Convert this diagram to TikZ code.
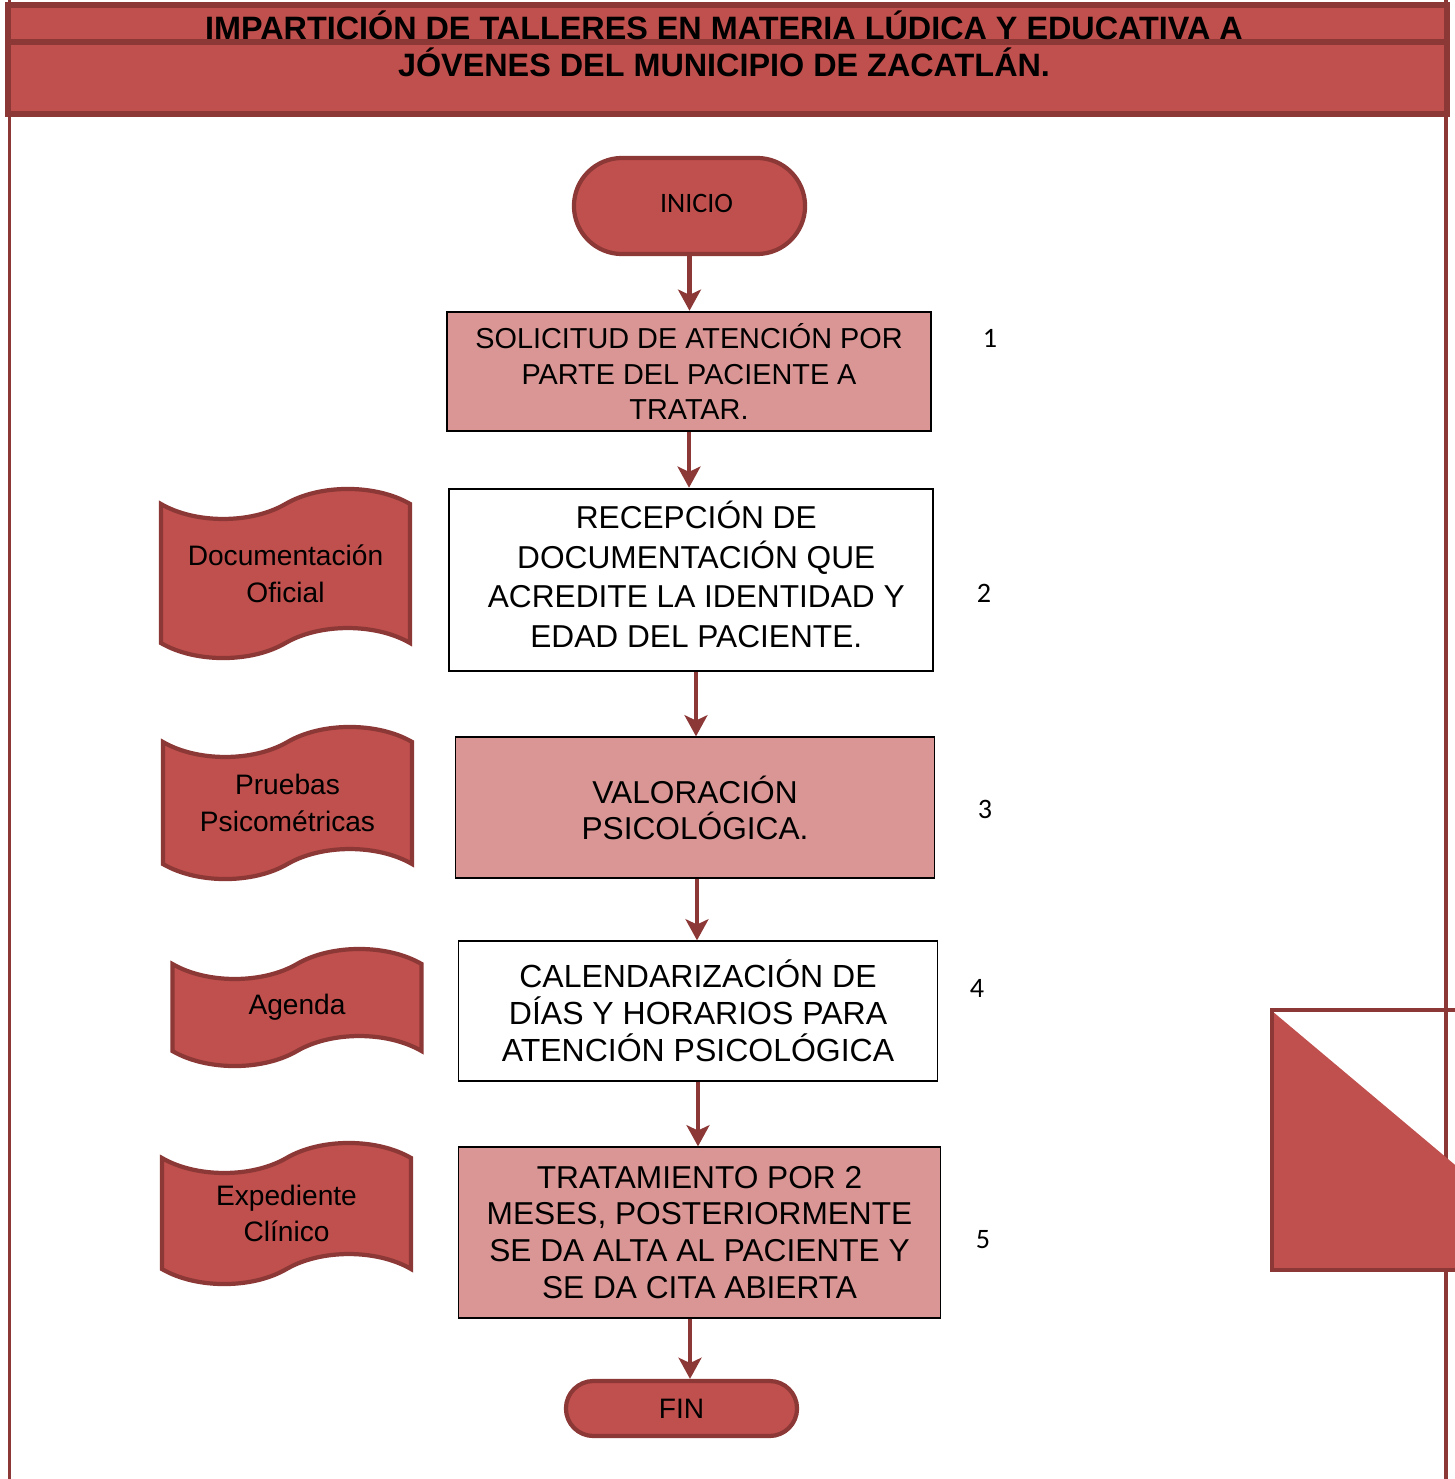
\documentclass[tikz,border=0pt]{standalone}
\usepackage{fontspec}
\setmainfont{Liberation Sans}
\newfontfamily\calibri{Carlito}
\usetikzlibrary{arrows.meta,shapes.misc,shapes.symbols}

\definecolor{rojo}{HTML}{C0504D}
\definecolor{borde}{HTML}{8C3836}
\definecolor{rosa}{HTML}{D99694}

\begin{document}
\begin{tikzpicture}[x=0.01cm,y=-0.01cm,
    flecha/.style={draw=borde,line width=1.2pt,-{Stealth[length=6pt,width=6.5pt,inset=1.5pt]}},
    terminal/.style={rounded rectangle,draw=borde,fill=rojo,line width=1.2pt,inner sep=0pt},
    paso/.style={rectangle,draw=black,line width=0.35pt,inner sep=0pt,align=center},
    docu/.style={tape,draw=borde,fill=rojo,line width=1.2pt,inner sep=0pt,align=center,
        minimum width=2.49cm,tape bend height=0.3cm,font=\fontsize{8}{10.4}\selectfont},
    numero/.style={font=\calibri\fontsize{8}{10}\selectfont}]
    \clip (0,0) rectangle (1455,1479);

    % Encabezado
    \draw[borde,line width=1.1pt] (9.5,0) -- (9.5,1479);
    \draw[borde,line width=1.1pt] (1446,0) -- (1446,1479);
    \draw[draw=borde,fill=rojo,line width=1.5pt] (8,5) rectangle (1447,114);
    \draw[borde,line width=1.5pt] (8,42) -- (1447,42);
    \node[font=\bfseries\fontsize{9.2}{10.5}\selectfont,align=center] (titulo) at (724,44)
        {IMPARTICIÓN DE TALLERES EN MATERIA LÚDICA Y EDUCATIVA A\\
         JÓVENES DEL MUNICIPIO DE ZACATLÁN.};

    % Inicio y pasos
    \node[terminal,minimum width=2.31cm,minimum height=0.96cm,font=\calibri\fontsize{8}{10}\selectfont]
        (inicio) at (689.5,206) {\hspace*{4pt}\raisebox{1.4pt}{INICIO}};
    \node[paso,fill=rosa,line width=0.7pt,minimum width=4.84cm,minimum height=1.19cm,
        font=\fontsize{8.2}{10.2}\selectfont] (s1) at (689,371.5)
        {SOLICITUD DE ATENCIÓN POR\\PARTE DEL PACIENTE A\\TRATAR.};
    \node[paso,fill=white,line width=0.7pt,minimum width=4.84cm,minimum height=1.82cm,
        font=\fontsize{9}{11.3}\selectfont] (s2) at (691,580)
        {\hspace*{3pt}\raisebox{1.2pt}{\begin{tabular}{@{}c@{}}RECEPCIÓN DE\\DOCUMENTACIÓN QUE\\ACREDITE LA IDENTIDAD Y\\EDAD DEL PACIENTE.\end{tabular}}};
    \node[paso,fill=rosa,minimum width=4.78cm,minimum height=1.41cm,
        font=\fontsize{9}{10.2}\selectfont] (s3) at (695,807.5)
        {VALORACIÓN\\PSICOLÓGICA.};
    \node[paso,fill=white,minimum width=4.78cm,minimum height=1.40cm,
        font=\fontsize{9.1}{10.5}\selectfont] (s4) at (698,1011)
        {CALENDARIZACIÓN DE\\DÍAS Y HORARIOS PARA\\ATENCIÓN PSICOLÓGICA};
    \node[paso,fill=rosa,minimum width=4.81cm,minimum height=1.71cm,
        font=\fontsize{9}{10.5}\selectfont] (s5) at (699.5,1232.5)
        {TRATAMIENTO POR 2\\MESES, POSTERIORMENTE\\SE DA ALTA AL PACIENTE Y\\SE DA CITA ABIERTA};
    \node[terminal,minimum width=2.31cm,minimum height=0.55cm,font=\fontsize{8}{10}\selectfont]
        (fin) at (681.5,1408.5) {FIN};

    % Numeros
    \node[numero] (n1) at (990,338) {1};
    \node[numero] (n2) at (984,593) {2};
    \node[numero] (n3) at (985,809) {3};
    \node[numero] (n4) at (977,988) {4};
    \node[numero] (n5) at (983,1240) {5};

    % Documentos
    \node[docu,minimum height=1.69cm] (d1) at (285.5,573.5) {Documentación\\Oficial};
    \node[docu,minimum height=1.52cm] (d2) at (287.5,803) {Pruebas\\Psicométricas};
    \node[docu,minimum height=1.17cm] (d3) at (297,1007.5) {Agenda};
    \node[docu,minimum height=1.41cm] (d4) at (286.5,1213.5) {Expediente\\Clínico};

    % Flechas
    \draw[flecha] (inicio.south) -- (inicio.south |- s1.north);
    \draw[flecha] (s1.south) -- (s1.south |- s2.north);
    \draw[flecha] (s2.south -| 696,0) -- (s3.north -| 696,0);
    \draw[flecha] (s3.south -| 697,0) -- (s4.north -| 697,0);
    \draw[flecha] (s4.south) -- (s4.south |- s5.north);
    \draw[flecha] (s5.south -| 690,0) -- (fin.north -| 690,0);

    % Conector a la derecha
    \fill[rojo] (1272,1011) -- (1580,1270) -- (1272,1270) -- cycle;
    \draw[borde,line width=1.4pt] (1272,1010) rectangle (1600,1270);
\end{tikzpicture}
\end{document}
